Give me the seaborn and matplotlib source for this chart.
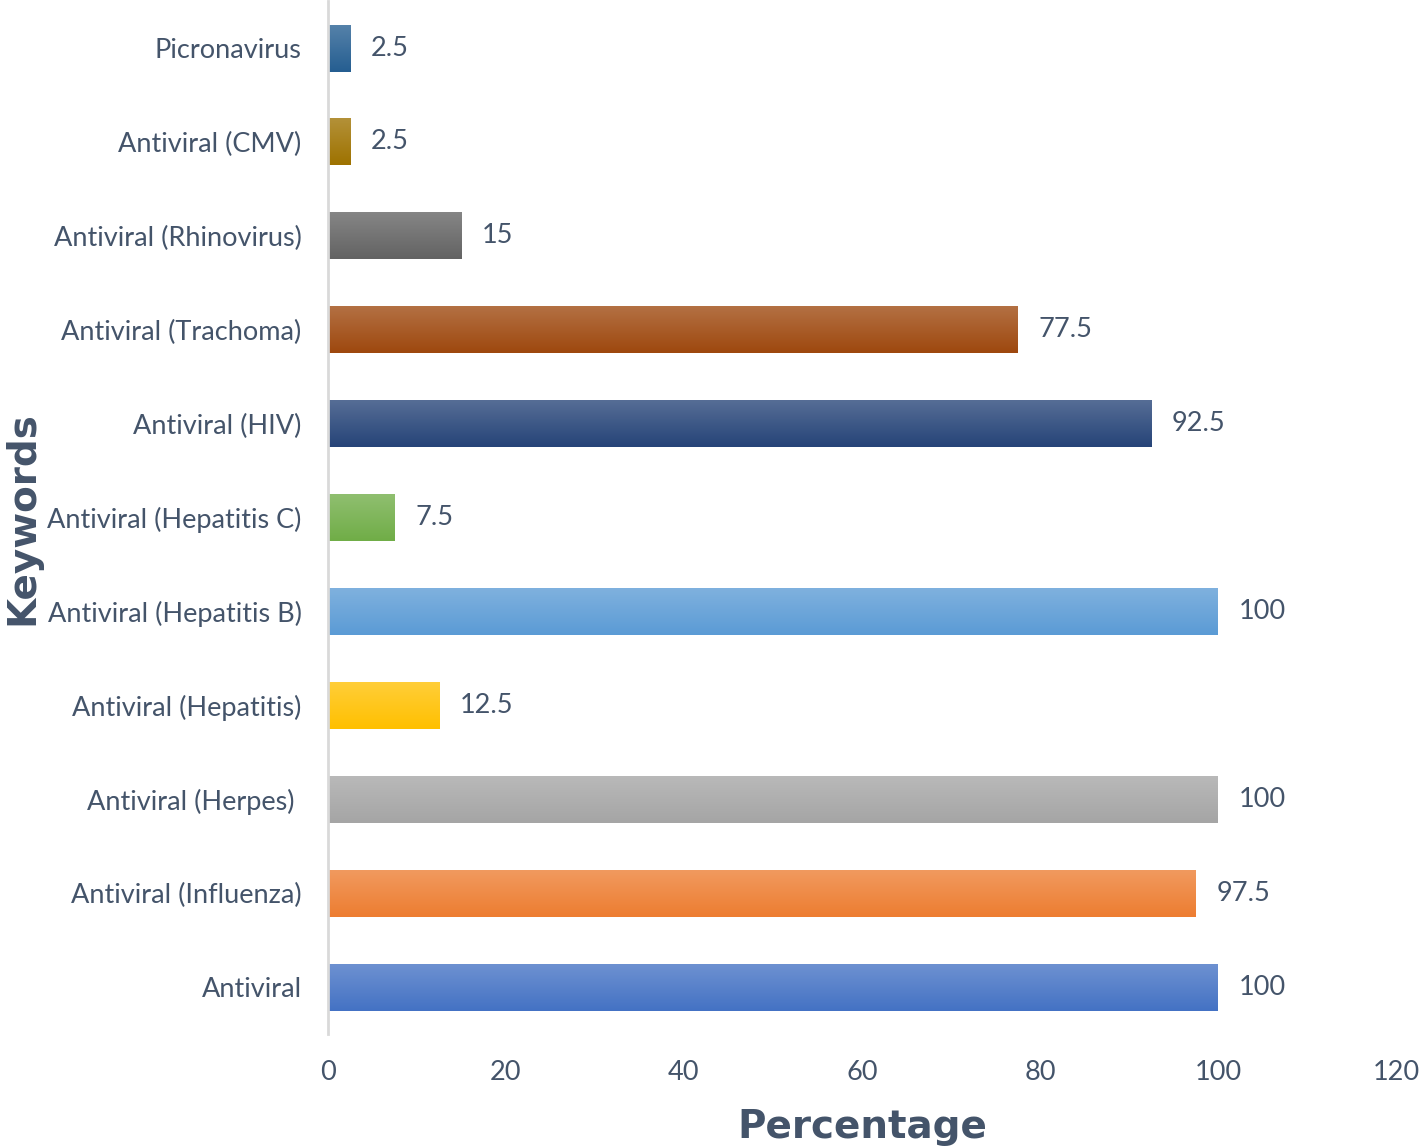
import numpy as np
import pandas as pd
import seaborn as sns
import matplotlib.pyplot as plt
from matplotlib.colors import to_rgb

keywords = ["Picronavirus", "Antiviral (CMV)", "Antiviral (Rhinovirus)", "Antiviral (Trachoma)",
            "Antiviral (HIV)", "Antiviral (Hepatitis C)", "Antiviral (Hepatitis B)",
            "Antiviral (Hepatitis)", "Antiviral (Herpes) ", "Antiviral (Influenza)", "Antiviral"]
percentages = [2.5, 2.5, 15, 77.5, 92.5, 7.5, 100, 12.5, 100, 97.5, 100]
colors = ["#255E91", "#9E7200", "#636363", "#9E480E", "#264478", "#70AD47",
          "#5B9BD5", "#FFC000", "#A5A5A5", "#ED7D31", "#4472C4"]

df = pd.DataFrame({"Keywords": keywords, "Percentage": percentages})

sns.set_style("white")
plt.rcParams["font.family"] = ["Lato", "DejaVu Sans"]
text_color = "#44546A"

fig = plt.figure(figsize=(14.24, 11.48), dpi=100)
ax = fig.add_axes([0.2303, 0.0993, 0.75, 0.8997])

p = sns.barplot(data=df, x="Percentage", y="Keywords", hue="Keywords", palette=colors,
                width=0.5, saturation=1, legend=False, ax=ax)

# vertical gradient on each bar, lighter at the top
for patch, c in zip(ax.patches, colors):
    x0, y0 = patch.get_x(), patch.get_y()
    w, h = patch.get_width(), patch.get_height()
    base = np.array(to_rgb(c))
    light = base + (1 - base) * 0.22
    t = np.linspace(0, 1, 64)[:, None]
    grad = light * (1 - t) + base * t
    img = np.repeat(grad[:, None, :], 2, axis=1)
    ax.imshow(img, extent=[x0, x0 + w, y0, y0 + h], origin="lower", aspect="auto",
              clip_path=patch, zorder=2)
    patch.set_facecolor("none")

for container in p.containers:
    p.bar_label(container, labels=[f"{v:g}" for v in container.datavalues],
                padding=15, fontsize=19.5, color=text_color)

ax.set_xlim(0, 120)
ax.set_ylim(10.5, -0.5)
ax.set_xticks(range(0, 121, 20))
ax.tick_params(axis="both", length=0, labelsize=19.5, labelcolor=text_color)
ax.tick_params(axis="y", pad=19)
ax.tick_params(axis="x", pad=19)

ax.set_xlabel("Percentage", fontsize=28, fontweight="heavy", color=text_color,
              family="DejaVu Sans")
ax.set_ylabel("Keywords", fontsize=28, fontweight="heavy", color=text_color,
              family="DejaVu Sans")
ax.xaxis.set_label_coords(0.5, -0.072)
ax.yaxis.set_label_coords(-0.268, 0.5)

sns.despine(ax=ax, top=True, right=True, bottom=True, left=False)
ax.spines["left"].set_color("#D9D9D9")
ax.spines["left"].set_linewidth(2)
ax.grid(False)

fig.savefig("out.png", dpi=100)
